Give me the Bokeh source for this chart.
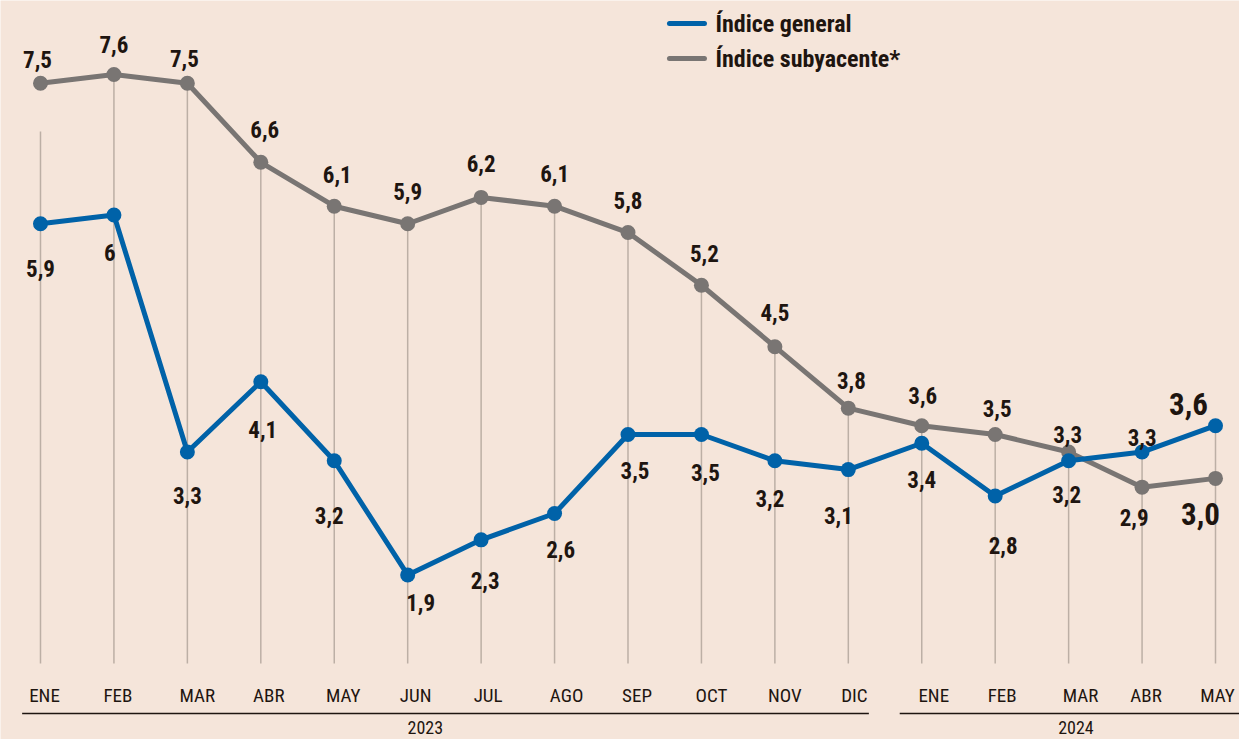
from bokeh.plotting import figure
from bokeh.models import ColumnDataSource, Range1d
from bokeh.core.properties import value
from bokeh.embed import file_html
from bokeh.resources import INLINE

months = ["ENE", "FEB", "MAR", "ABR", "MAY", "JUN", "JUL", "AGO", "SEP", "OCT",
          "NOV", "DIC", "ENE", "FEB", "MAR", "ABR", "MAY"]
general = [5.9, 6.0, 3.3, 4.1, 3.2, 1.9, 2.3, 2.6, 3.5, 3.5, 3.2, 3.1, 3.4, 2.8, 3.2, 3.3, 3.6]
subyacente = [7.5, 7.6, 7.5, 6.6, 6.1, 5.9, 6.2, 6.1, 5.8, 5.2, 4.5, 3.8, 3.6, 3.5, 3.3, 2.9, 3.0]
general_labels = ["5,9", "6", "3,3", "4,1", "3,2", "1,9", "2,3", "2,6", "3,5", "3,5",
                  "3,2", "3,1", "3,4", "2,8", "3,2", "3,3", "3,6"]
sub_labels = ["7,5", "7,6", "7,5", "6,6", "6,1", "5,9", "6,2", "6,1", "5,8", "5,2",
              "4,5", "3,8", "3,6", "3,5", "3,3", "2,9", "3,0"]
years = ["2023", "2024"]
year_first = [0, 12]
year_last = [11, 16]

# label placement (screen pixel offsets, positive = down)
gen_dx = [0, -4, 0, 2, -5, 13, 4, 6, 7, 4, -5, -10, 0, 8, -2, 0, -27]
gen_dy = [45, 38, 43, 48, 55, 28, 41, 36, 36, 38, 38, 46, 36, 50, 34, -15, -22]
sub_dx = [-3, 0, -3, 4, 3, 0, 0, 0, 0, 3, 0, 3, 1, 2, -1, -8, -15]
sub_dy = [-24, -30, -25, -33, -32, -32, -34, -33, -32, -32, -34, -28, -30, -26, -18, 30, 36]
month_dx = [4, 4, 10, 8, 9, 8, 7, 12, 9, 10, 10, 6, 12, 7, 12, 4, 2]
big = [False] * 16 + [True]

BG = "#f5e5da"
BLUE = "#0062a8"
GRAY = "#797573"
INK = "#1e1510"
GRID = "#bcafa5"
FONT = "'Liberation Sans Narrow', 'Roboto Condensed', 'Arial Narrow', sans-serif"

W, H = 1239, 739
PX_PER_UNIT = 87.8
x = list(range(len(months)))

p = figure(width=W, height=H, output_backend="svg", toolbar_location=None,
           min_border=0, min_border_left=0, min_border_right=0,
           min_border_top=0, min_border_bottom=0)
p.x_range = Range1d(-40 / 73.44, 16 + 24 / 73.44)
y_top = 7.6 + 74 / PX_PER_UNIT
y_bot = y_top - H / PX_PER_UNIT
p.y_range = Range1d(y_bot, y_top)
p.axis.visible = False
p.grid.visible = False
p.outline_line_color = None
p.background_fill_color = BG
p.border_fill_color = BG


def pxv(py):
    return y_top - py / PX_PER_UNIT


base = pxv(663)
guide_top = [max(a, b) for a, b in zip(general, subyacente)]
guide_top[0] = pxv(131)

p.segment(x0=x, x1=x, y0=[base] * len(x), y1=guide_top, line_color=GRID, line_width=1.5)

# series
p.line(x, subyacente, line_color=GRAY, line_width=5, line_join="round")
p.scatter(x, subyacente, size=15, fill_color=GRAY, line_color=None)
p.line(x, general, line_color=BLUE, line_width=5, line_join="round")
p.scatter(x, general, size=15, fill_color=BLUE, line_color=None)

# data labels
small_g = [i for i in x if not big[i]]
big_g = [i for i in x if big[i]]
for idx, fs in ((small_g, "23px"), (big_g, "31px")):
    src_g = ColumnDataSource(dict(x=[x[i] for i in idx], y=[general[i] for i in idx],
                                  t=[general_labels[i] for i in idx],
                                  dx=[gen_dx[i] for i in idx], dy=[gen_dy[i] for i in idx]))
    p.text("x", "y", text="t", source=src_g, x_offset="dx", y_offset="dy",
           text_font=value(FONT), text_font_style="bold", text_font_size=fs,
           text_color=INK, text_align="center", text_baseline="middle")
    src_s = ColumnDataSource(dict(x=[x[i] for i in idx], y=[subyacente[i] for i in idx],
                                  t=[sub_labels[i] for i in idx],
                                  dx=[sub_dx[i] for i in idx], dy=[sub_dy[i] for i in idx]))
    p.text("x", "y", text="t", source=src_s, x_offset="dx", y_offset="dy",
           text_font=value(FONT), text_font_style="bold", text_font_size=fs,
           text_color=INK, text_align="center", text_baseline="middle")

# month labels
msrc = ColumnDataSource(dict(x=x, y=[base] * len(x), t=months, dx=month_dx))
p.text("x", "y", text="t", source=msrc, x_offset="dx", y_offset=32,
       text_font=value(FONT), text_font_size="19px", text_color=INK,
       text_align="center", text_baseline="middle")

# year brackets
yl = pxv(713)
p.segment(x0=[year_first[0] - 0.25, year_first[1] - 0.3], x1=[year_last[0] + 0.28, year_last[1] + 0.32],
          y0=[yl, yl], y1=[yl, yl], line_color=INK, line_width=1.5)
p.text([(year_first[0] + year_last[0]) / 2 - 0.26, (year_first[1] + year_last[1]) / 2 + 0.1],
       [yl, yl], text=years, y_offset=14,
       text_font=value(FONT), text_font_size="18px", text_color=INK,
       text_align="center", text_baseline="middle")

# legend
lx0 = 669 / 73.44 - 40 / 73.44
lx1 = 704 / 73.44 - 40 / 73.44
tx = 715 / 73.44 - 40 / 73.44
for py, col, name in ((23, BLUE, "Índice general"), (58, GRAY, "Índice subyacente*")):
    p.line([lx0, lx1], [pxv(py), pxv(py)], line_color=col, line_width=5, line_cap="round")
    p.text([tx], [pxv(py)], text=[name], text_font=value(FONT), text_font_style="bold",
           text_font_size="24px", text_color=INK, text_align="left", text_baseline="middle")

open("out.html", "w").write(file_html(p, INLINE))
